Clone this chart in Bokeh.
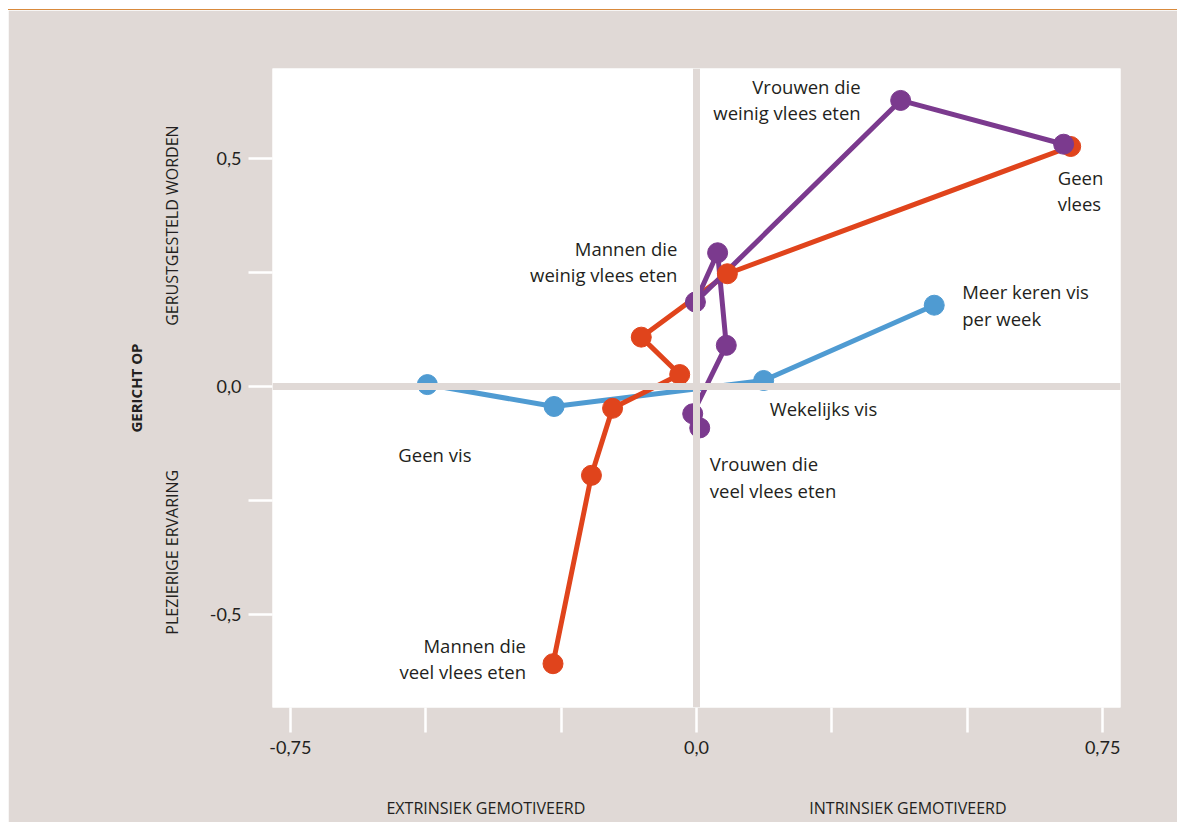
from bokeh.plotting import figure
from bokeh.models import Span, FixedTicker, LinearAxis
from bokeh.core.properties import value
from bokeh.embed import file_html
from bokeh.resources import INLINE

# ---------------- data ----------------
x_ticks = [-0.75, -0.5, -0.25, 0.0, 0.25, 0.5, 0.75]
x_tick_labels = ["-0,75", "", "", "0,0", "", "", "0,75"]
y_ticks = [-0.5, -0.25, 0.0, 0.25, 0.5]
y_tick_labels = ["-0,5", "", "0,0", "", "0,5"]

fish_x = [-0.497, -0.263, 0.124, 0.439]
fish_y = [0.004, -0.044, 0.013, 0.178]
fish_labels = ["Geen vis", "", "Wekelijks vis", "Meer keren vis\nper week"]

men_x = [-0.265, -0.194, -0.155, -0.031, -0.102, 0.057, 0.691]
men_y = [-0.608, -0.195, -0.048, 0.026, 0.108, 0.247, 0.526]
men_labels = ["Mannen die\nveel vlees eten", "", "", "", "", "Mannen die\nweinig vlees eten", "Geen\nvlees"]

women_x = [0.006, -0.007, 0.055, 0.039, -0.002, 0.377, 0.678]
women_y = [-0.091, -0.060, 0.090, 0.293, 0.185, 0.627, 0.531]
women_labels = ["Vrouwen die\nveel vlees eten", "", "", "", "", "Vrouwen die\nweinig vlees eten", ""]

x_title_left = "EXTRINSIEK GEMOTIVEERD"
x_title_right = "INTRINSIEK GEMOTIVEERD"
y_title = "GERICHT OP"
y_title_top = "GERUSTGESTELD WORDEN"
y_title_bottom = "PLEZIERIGE ERVARING"

# ---------------- styling ----------------
BEIGE = "#e0d9d6"
BLUE = "#4f9bd2"
ORANGE = "#e0441c"
PURPLE = "#7b3a8e"
INK = "#231f20"
TICK_FONT = "Lato"
FONT = "Open Sans"
GAP = "\u2003"  # em space between the two half-axis titles

X_RANGE = (-0.783, 0.783)
Y_RANGE = (-0.704, 0.697)

# label placement: text -> (x_offset px, y_offset px, align)
label_style = {
    "Geen vis": (-29, 70, "left"),
    "Wekelijks vis": (6, 28, "left"),
    "Meer keren vis\nper week": (28, 0, "left"),
    "Mannen die\nveel vlees eten": (-27, -5, "right"),
    "Mannen die\nweinig vlees eten": (-50, -12, "right"),
    "Geen\nvlees": (-13, 44, "left"),
    "Vrouwen die\nveel vlees eten": (10, 49, "left"),
    "Vrouwen die\nweinig vlees eten": (-40, -1, "right"),
}

p = figure(width=1169, height=813, output_backend="svg", toolbar_location=None,
           x_range=X_RANGE, y_range=Y_RANGE,
           min_border_left=264, min_border_right=57, min_border_top=58, min_border_bottom=116)
p.styles = {"border-top": "1px solid #d98a3c", "margin-left": "8px", "margin-top": "9px"}
p.background_fill_color = "white"
p.border_fill_color = BEIGE
p.outline_line_color = None
p.grid.visible = False

xax = p.xaxis[0]
yax = p.yaxis[0]

# main axes
xax.ticker = FixedTicker(ticks=x_ticks)
xax.major_label_overrides = {t: l for t, l in zip(x_ticks, x_tick_labels)}
yax.ticker = FixedTicker(ticks=y_ticks)
yax.major_label_overrides = {t: l for t, l in zip(y_ticks, y_tick_labels)}
for ax in (xax, yax):
    ax.axis_line_color = None
    ax.minor_tick_line_color = None
    ax.major_tick_line_color = "white"
    ax.major_tick_line_width = 2.5
    ax.major_tick_in = 0
    ax.major_label_text_font = TICK_FONT
    ax.major_label_text_font_size = "18px"
    ax.major_label_text_color = INK
    ax.axis_label_text_font = FONT
    ax.axis_label_text_font_size = "16px"
    ax.axis_label_text_font_style = "normal"
    ax.axis_label_text_color = INK
xax.major_tick_out = 25
xax.major_label_standoff = 8
xax.axis_label = x_title_left + GAP * 14 + x_title_right
xax.axis_label_standoff = 40
yax.major_tick_out = 24
yax.major_label_standoff = 7
yax.axis_label = GAP + y_title_bottom + GAP * 9 + y_title_top
yax.axis_label_standoff = 24

# outer axis carrying only the bold title
outer = LinearAxis(ticker=FixedTicker(ticks=[]), axis_line_color=None,
                   major_tick_line_color=None, minor_tick_line_color=None,
                   major_tick_out=0, major_tick_in=0, major_label_standoff=0,
                   axis_label=y_title, axis_label_text_font=FONT,
                   axis_label_text_font_style="bold", axis_label_text_font_size="15px",
                   axis_label_text_color=INK, axis_label_standoff=12)
p.add_layout(outer, "left")

# zero lines
p.add_layout(Span(location=0, dimension="height", line_color=BEIGE, line_width=7))
p.add_layout(Span(location=0, dimension="width", line_color=BEIGE, line_width=7))

series = [(fish_x, fish_y, fish_labels, BLUE),
          (men_x, men_y, men_labels, ORANGE),
          (women_x, women_y, women_labels, PURPLE)]
for xs, ys, _, c in series:
    p.line(xs, ys, line_color=c, line_width=5)
for xs, ys, _, c in series:
    p.scatter(xs, ys, size=20, fill_color=c, line_color=c)

# point labels
for xs, ys, labs, _ in series:
    for xv, yv, lab in zip(xs, ys, labs):
        if not lab:
            continue
        xo, yo, al = label_style[lab]
        p.text(x=[xv], y=[yv], text=[lab], x_offset=xo, y_offset=yo,
               text_align=al, text_baseline="middle", text_font=value(FONT),
               text_font_size="18.5px", text_color=INK, text_line_height=1.06)

open("out.html", "w").write(file_html(p, INLINE))
